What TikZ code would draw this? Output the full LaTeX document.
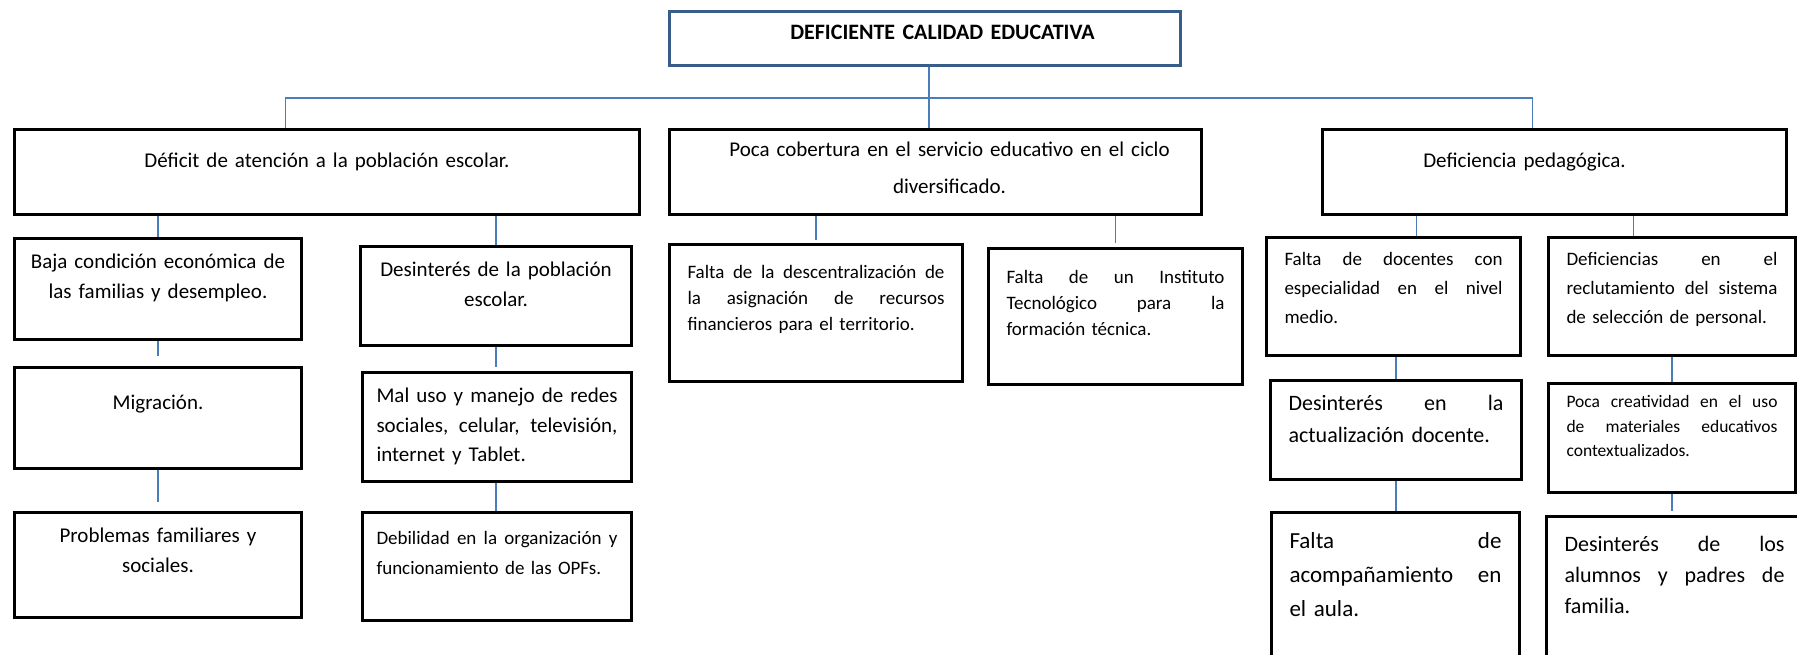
\documentclass[tikz,border=0pt]{standalone}
\usepackage{fontspec}
\setmainfont{Carlito}
\definecolor{marco}{HTML}{385D8A}
\definecolor{linea}{HTML}{4A7EBB}
\newcommand{\jlin}[1]{{\spaceskip=0pt\xspaceskip=0pt\makebox[\hsize][s]{#1}}}

\begin{document}
\begin{tikzpicture}[x=1pt,y=-1pt,
  caja/.style={draw, line width=3pt, anchor=north west, inner xsep=18pt, inner ysep=0pt, align=center},
  just/.style={align=left},
  letra/.style 2 args={font=\fontsize{#1}{#2}\selectfont},
  conn/.style={draw=linea, line width=1.5pt}]
  \clip (0,0) rectangle (1797,654);
  % --- problema central ---
  \node[caja, draw=marco, font=\bfseries\fontsize{22}{25}\selectfont, text width=475pt, text height=28pt, text depth=26pt] (raiz) at (668,10) {\hspace*{35pt}DEFICIENTE CALIDAD EDUCATIVA};
  % --- causas principales ---
  \node[caja, letra={21}{29.5}, text width=589pt, text height=38pt, text depth=47pt] (def) at (13,128) {Déficit de atención a la población escolar.};
  \node[caja, letra={21}{36.5}, text width=496pt, text height=27pt, text depth=58pt] (cob) at (668,128) {\hspace*{28pt}Poca cobertura en el servicio educativo en el ciclo\\ \hspace*{28pt}diversificado.};
  \node[caja, letra={21}{29.5}, text width=428pt, text height=38pt, text depth=47pt] (ped) at (1321,128) {\hspace*{-60pt}Deficiencia pedagógica.};
  % --- rama 1 ---
  \node[caja, letra={21}{29.5}, inner xsep=12pt, text width=263pt, text height=30pt, text depth=71pt] (baja) at (13,237) {Baja condición económica de\\ las familias y desempleo.};
  \node[caja, letra={21}{29.5}, inner xsep=12pt, text width=263pt, text height=42pt, text depth=59pt] (migra) at (13,366) {Migración.};
  \node[caja, letra={21}{29.5}, inner xsep=12pt, text width=263pt, text height=30pt, text depth=75pt] (probfam) at (13,511) {Problemas familiares y\\ sociales.};
  \node[caja, letra={21}{29.5}, inner xsep=12pt, text width=247pt, text height=30pt, text depth=69pt] (desint) at (359,245) {Desinterés de la población\\ escolar.};
  \node[caja, just, letra={21}{29.5}, inner xsep=14pt, text width=241pt, text height=30pt, text depth=79pt] (redes) at (361,371) {\jlin{Mal uso y manejo de redes}\\ \jlin{sociales, celular, televisión,}\\ internet y Tablet.};
  \node[caja, just, letra={19}{30}, inner xsep=14pt, text width=241pt, text height=32pt, text depth=76pt] (opf) at (361,511) {\jlin{Debilidad en la organización y}\\ funcionamiento de las OPFs.};
  % --- rama 2 ---
  \node[caja, just, letra={19}{26}, text width=257pt, text height=34pt, text depth=103pt] (descen) at (668,243) {\jlin{Falta de la descentralización de}\\ \jlin{la asignación de recursos}\\ financieros para el territorio.};
  \node[caja, just, letra={19}{26}, text width=218pt, text height=35pt, text depth=101pt] (instit) at (987,247) {\jlin{Falta de un Instituto}\\ \jlin{Tecnológico para la}\\ formación técnica.};
  % --- rama 3 ---
  \node[caja, just, letra={19}{29}, text width=218pt, text height=28pt, text depth=90pt] (docen) at (1265,236) {\jlin{Falta de docentes con}\\ \jlin{especialidad en el nivel}\\ medio.};
  \node[caja, just, letra={19}{29}, text width=211pt, text height=28pt, text depth=90pt] (reclut) at (1547,236) {\jlin{Deficiencias en el}\\ \jlin{reclutamiento del sistema}\\ de selección de personal.};
  \node[caja, just, letra={22}{32}, text width=215pt, text height=30pt, text depth=69pt] (actual) at (1269,379) {\jlin{Desinterés en la}\\ actualización docente.};
  \node[caja, just, letra={17.5}{24.5}, text width=211pt, text height=24pt, text depth=85pt] (creat) at (1547,382) {\jlin{Poca creatividad en el uso}\\ \jlin{de materiales educativos}\\ contextualizados.};
  \node[caja, just, letra={23}{34}, text width=212pt, text height=36pt, text depth=134pt] (acomp) at (1270,511) {\jlin{Falta de}\\ \jlin{acompañamiento en}\\ el aula.};
  \node[caja, just, letra={22}{31}, text width=220pt, text height=35pt, text depth=131pt] (alumnos) at (1545,515) {\jlin{Desinterés de los}\\ \jlin{alumnos y padres de}\\ familia.};
  % conectores
  \coordinate (bus) at (929,98);
  \draw[conn] (raiz.south -| bus) -- (cob.north -| bus);
  \draw[conn] ([xshift=-41.5pt]def.north) |- (bus) -| ([xshift=-22pt]ped.north);
  \draw[conn] (def.south -| baja.north) -- (baja.north);
  \draw[conn] (def.south -| desint.north) -- (desint.north);
  \draw[conn, shorten >=10pt] (baja.south) -- (migra.north);
  \draw[conn, shorten >=9pt] (migra.south) -- (probfam.north);
  \draw[conn, shorten >=4pt] (desint.south) -- (desint.south |- redes.north);
  \draw[conn] (desint.south |- redes.south) -- (desint.south |- opf.north);
  \draw[conn, shorten >=3pt] (cob.south -| descen.north) -- (descen.north);
  \draw[conn, shorten >=4pt] (cob.south -| instit.north) -- (instit.north);
  \coordinate (p1) at ([xshift=-138pt]ped.south);
  \coordinate (p2) at ([xshift=79pt]ped.south);
  \draw[conn] (p1) -- (p1 |- docen.north);
  \draw[conn] (p2) -- (p2 |- reclut.north);
  \draw[conn] (actual.north |- docen.south) -- (actual.north);
  \draw[conn] (actual.south) -- (actual.south |- acomp.north);
  \draw[conn] (reclut.south) -- (reclut.south |- creat.north);
  \draw[conn, shorten >=4pt] (creat.south) -- (creat.south |- alumnos.north);
\end{tikzpicture}
\end{document}
